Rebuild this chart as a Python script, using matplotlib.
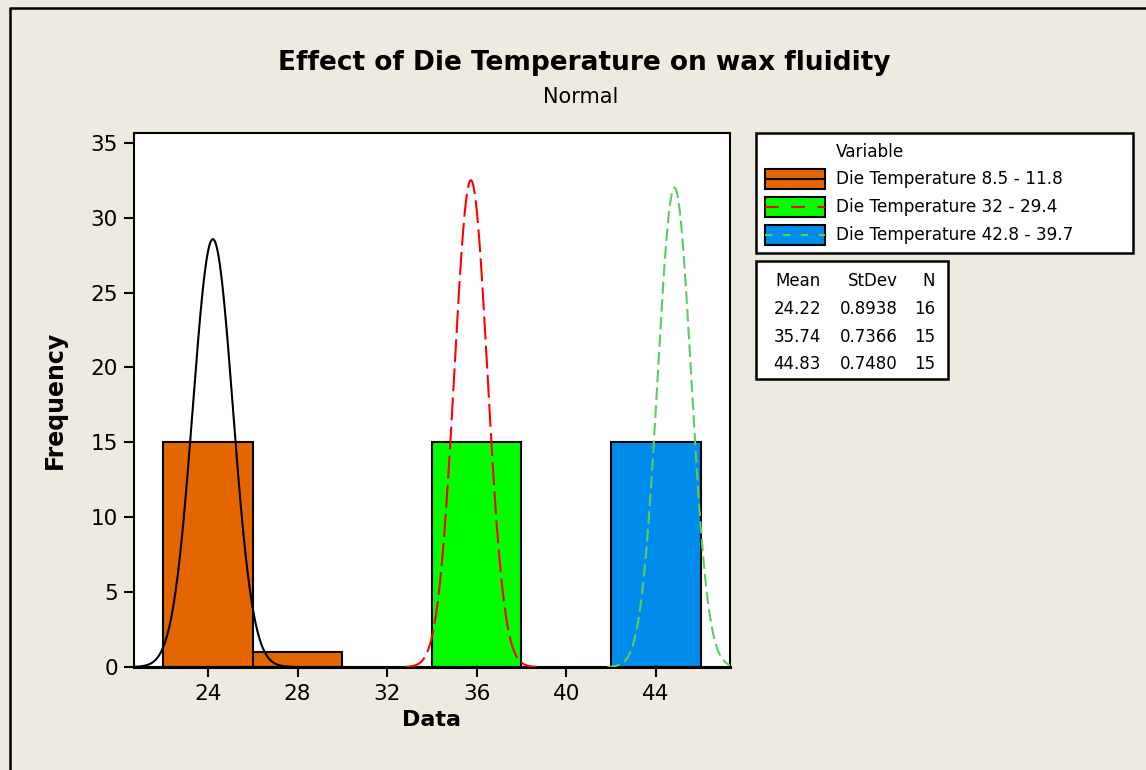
import matplotlib
matplotlib.use("Agg")
import matplotlib.pyplot as plt
from matplotlib.patches import Rectangle
from matplotlib.lines import Line2D
import numpy as np

# Data
series_labels = ["Die Temperature 8.5 - 11.8",
                 "Die Temperature 32 - 29.4",
                 "Die Temperature 42.8 - 39.7"]
bin_edges = [22, 26, 30, 34, 38, 42, 46]
counts_1 = [15, 1, 0, 0, 0, 0]
counts_2 = [0, 0, 0, 15, 0, 0]
counts_3 = [0, 0, 0, 0, 0, 15]
means = [24.22, 35.74, 44.83]
stdevs = [0.8938, 0.7366, 0.7480]
ns = [16, 15, 15]
x_ticks = [24, 28, 32, 36, 40, 44]
y_ticks = [0, 5, 10, 15, 20, 25, 30, 35]

# Styles
bar_colors = ["#E36600", "#00FF00", "#008CEA"]
curve_colors = ["black", "red", "#5DCB5D"]
curve_dashes = [None, (11, 3), (6, 2.5)]
bg = "#EEEAE0"

W, H = 1146, 770
def fx(p):
    return p / W
def fy(p):
    return 1 - p / H

plt.rcParams['font.family'] = ['DejaVu Sans']

fig = plt.figure(figsize=(W / 100, H / 100), dpi=100, facecolor=bg)
ax = fig.add_axes([fx(134), fy(667), fx(730) - fx(134), fy(133) - fy(667)])
ax.set_facecolor("white")

binw = bin_edges[1] - bin_edges[0]
lefts = bin_edges[:-1]
for counts, col in zip([counts_1, counts_2, counts_3], bar_colors):
    xs = [l for l, c in zip(lefts, counts) if c > 0]
    hs = [c for c in counts if c > 0]
    ax.bar(xs, hs, width=binw, align='edge', color=col, edgecolor='black', linewidth=1.5, zorder=2)

# fitted normal curves, scaled to counts
for m, s, n, col, d in zip(means, stdevs, ns, curve_colors, curve_dashes):
    x = np.linspace(m - 4 * s, m + 4 * s, 400)
    y = n * binw * np.exp(-0.5 * ((x - m) / s) ** 2) / (s * np.sqrt(2 * np.pi))
    line, = ax.plot(x, y, color=col, linewidth=1.5, zorder=3)
    if d is not None:
        line.set_dashes(d)

ax.set_xlim(20.70, 47.31)
ax.set_ylim(0, 35.65)
ax.set_xticks(x_ticks)
ax.set_yticks(y_ticks)
ax.tick_params(direction='out', length=7.5, width=1.5, labelsize=15.5, pad=4)
ax.tick_params(axis='x', pad=5)
for sp in ax.spines.values():
    sp.set_linewidth(1.5)
ax.spines['bottom'].set_linewidth(2.2)

ax.set_xlabel("Data", fontsize=16, fontweight='bold', labelpad=4)
ax.set_ylabel("Frequency", fontsize=17, fontweight='bold', labelpad=17)

fig.text(fx(584), fy(63), "Effect of Die Temperature on wax fluidity",
         ha='center', va='center', fontsize=19, fontweight='bold')
fig.text(fx(581), fy(97), "Normal", ha='center', va='center', fontsize=15)

# legend box
fig.patches.append(Rectangle((fx(756), fy(253)), fx(1133) - fx(756), fy(133) - fy(253),
                             transform=fig.transFigure, facecolor='white', edgecolor='black', linewidth=1.8))
fig.text(fx(836), fy(152), "Variable", ha='left', va='center', fontsize=12.2)
row_y = [179, 207, 235]
for lab, yc, bc, cc, d in zip(series_labels, row_y, bar_colors, curve_colors, curve_dashes):
    fig.patches.append(Rectangle((fx(765), fy(yc + 10)), fx(825) - fx(765), fy(yc - 10) - fy(yc + 10),
                                 transform=fig.transFigure, facecolor=bc, edgecolor='black', linewidth=1.5))
    ln = Line2D([fx(765), fx(825)], [fy(yc), fy(yc)], transform=fig.transFigure, color=cc, linewidth=1.5)
    if d is not None:
        ln.set_dashes((d[0] * 0.6, d[1] * 2))
    fig.lines.append(ln)
    fig.text(fx(836), fy(yc), lab, ha='left', va='center', fontsize=12.2)

# statistics table
fig.patches.append(Rectangle((fx(756), fy(379)), fx(948) - fx(756), fy(261) - fy(379),
                             transform=fig.transFigure, facecolor='white', edgecolor='black', linewidth=1.8))
col_x = [821, 898, 935]
tab_y = [281, 309, 337, 364]
for txt, cx in zip(["Mean", "StDev", "N"], col_x):
    fig.text(fx(cx), fy(tab_y[0]), txt, ha='right', va='center', fontsize=12)
for i in range(3):
    vals = [f"{means[i]:.2f}", f"{stdevs[i]:.4f}", f"{ns[i]}"]
    for v, cx in zip(vals, col_x):
        fig.text(fx(cx), fy(tab_y[i + 1]), v, ha='right', va='center', fontsize=12)

# outer frame
fig.lines.append(Line2D([fx(10), fx(10), fx(1146)], [fy(770), fy(8), fy(8)],
                        transform=fig.transFigure, color='black', linewidth=1.8))

fig.savefig("out.png", dpi=100, facecolor=bg)
